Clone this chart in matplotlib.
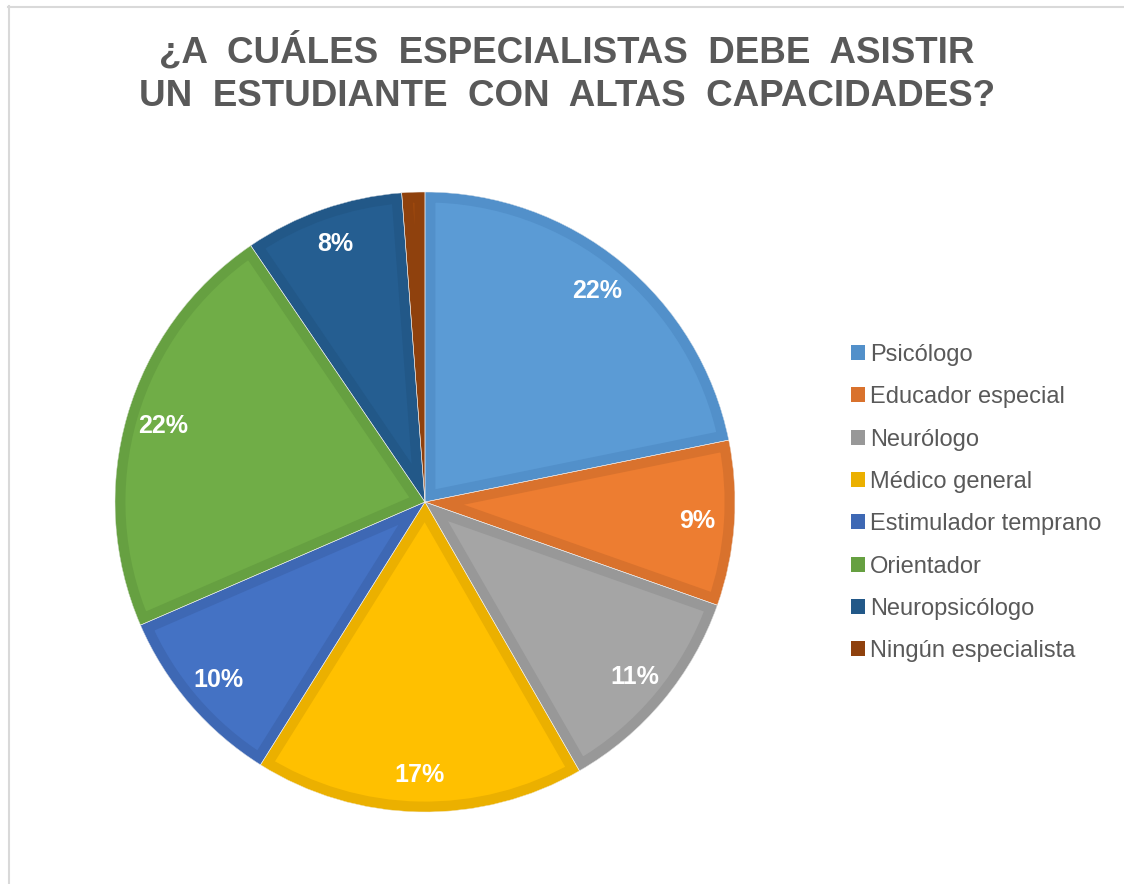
import matplotlib
matplotlib.use("Agg")
import matplotlib.pyplot as plt
from matplotlib.patches import Patch
from matplotlib.lines import Line2D

categories = ["Psicólogo", "Educador especial", "Neurólogo", "Médico general",
              "Estimulador temprano", "Orientador", "Neuropsicólogo", "Ningún especialista"]
values = [21.8, 8.6, 11.3, 17.2, 9.6, 22.0, 8.3, 1.2]
labels_pct = ["22%", "9%", "11%", "17%", "10%", "22%", "8%", ""]
face_colors = ["#5B9BD5", "#ED7D31", "#A5A5A5", "#FFC000", "#4472C4", "#70AD47", "#255E91", "#9E480E"]
edge_colors = ["#5290CA", "#D9722D", "#989898", "#EBB000", "#3E68B4", "#66A041", "#225888", "#8F410D"]
title = "¿A  CUÁLES  ESPECIALISTAS  DEBE  ASISTIR\nUN  ESTUDIANTE  CON  ALTAS  CAPACIDADES?"

plt.rcParams['font.family'] = ['Liberation Sans', 'DejaVu Sans']

W, H = 1124, 884
fig = plt.figure(figsize=(W / 100, H / 100), dpi=100)

cx, cy, r = 425, 502, 310
ax = fig.add_axes([(cx - r) / W, (H - cy - r) / H, 2 * r / W, 2 * r / H])

wedges, texts = ax.pie(values, colors=face_colors, startangle=90, counterclock=False,
                       radius=1.0, labels=labels_pct, labeldistance=0.88,
                       wedgeprops=dict(linewidth=0),
                       textprops=dict(color="white", fontsize=18, fontweight="bold",
                                      ha="center", va="center"))
# inner darker border of each slice
wedges2, _ = ax.pie(values, colors=face_colors, startangle=90, counterclock=False,
                    radius=1.0, wedgeprops=dict(linewidth=0))
for w, w2, ec in zip(wedges, wedges2, edge_colors):
    w2.set_facecolor("none")
    w2.set_edgecolor(ec)
    w2.set_linewidth(15)
    w2.set_clip_on(True)
    w2.set_clip_path(w)
    w2.set_zorder(w.get_zorder() + 0.1)
# thin light separators
wedges3, _ = ax.pie(values, startangle=90, counterclock=False, radius=1.0,
                    wedgeprops=dict(linewidth=0.35, edgecolor="#F2F2F2", facecolor="none"))
for w3 in wedges3:
    w3.set_zorder(2.5)
for t in texts:
    t.set_zorder(5)
ax.set_xlim(-1, 1)
ax.set_ylim(-1, 1)
ax.axis("off")

fig.text(567 / W, 1 - 73 / H, title, ha="center", va="center", fontsize=26.5,
         fontweight="bold", color="#595959", linespacing=1.3)

handles = [Patch(facecolor=c, edgecolor="none") for c in edge_colors]
leg = fig.legend(handles, categories, loc="upper left",
                 bbox_to_anchor=(851 / W, 1 - 344 / H), frameon=False,
                 fontsize=17, handlelength=0.6, handleheight=0.6,
                 handletextpad=0.22, labelspacing=0.86, borderaxespad=0,
                 borderpad=0)
for t in leg.get_texts():
    t.set_color("#595959")

# chart border
fig.add_artist(Line2D([8.5 / W, 8.5 / W], [0, 1 - 6 / H], color="#D9D9D9", lw=1.5))
fig.add_artist(Line2D([8 / W, 1], [1 - 6.5 / H, 1 - 6.5 / H], color="#D9D9D9", lw=1.5))

fig.savefig("out.png", dpi=100, facecolor="white")
